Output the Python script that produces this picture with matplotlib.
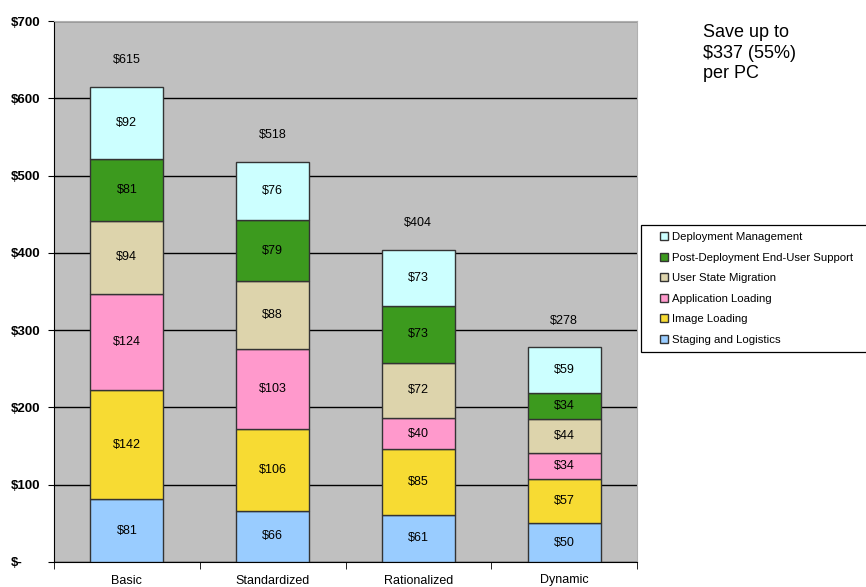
import matplotlib.pyplot as plt
from matplotlib.patches import Rectangle
import numpy as np

plt.rcParams['font.family'] = ['Liberation Sans', 'DejaVu Sans']

# data (bottom to top)
categories = ["Basic", "Standardized", "Rationalized", "Dynamic"]
series_names = ["Staging and Logistics", "Image Loading", "Application Loading",
                "User State Migration", "Post-Deployment End-User Support",
                "Deployment Management"]
staging = [81, 66, 61, 50]
image = [142, 106, 85, 57]
app = [124, 103, 40, 34]
user_state = [94, 88, 72, 44]
post_deploy = [81, 79, 73, 34]
deploy_mgmt = [92, 76, 73, 59]
totals = [615, 518, 404, 278]
y_ticks = [0, 100, 200, 300, 400, 500, 600, 700]
y_tick_labels = ["$-", "$100", "$200", "$300", "$400", "$500", "$600", "$700"]

colors = ["#99CCFF", "#F7DB33", "#FF99CC", "#DDD4AC", "#3C9A1E", "#CCFFFF"]

fig = plt.figure(figsize=(8.66, 5.87), dpi=100)
ax = fig.add_axes([54 / 866, 25 / 587, (637 - 54) / 866, (562 - 21) / 587])
ax.set_facecolor("#C0C0C0")

x = np.arange(len(categories))
series = [staging, image, app, user_state, post_deploy, deploy_mgmt]
bottom = np.zeros(len(categories))
handles = []
for vals, name, col in zip(series, series_names, colors):
    bars = ax.bar(x, vals, width=0.5, bottom=bottom, color=col,
                  edgecolor="#333333", linewidth=1.0, label=name, zorder=3)
    handles.append(bars)
    for xi, b, v in zip(x, bottom, vals):
        ax.text(xi, b + v / 2, f"${v}", ha="center", va="center",
                fontsize=9, zorder=4)
    bottom += np.array(vals)

# totals above the stacks
for xi, t in zip(x, totals):
    ax.text(xi, t + 34, f"${t}", ha="center", va="center", fontsize=9)

ax.set_xlim(-0.5, 3.5)
ax.set_ylim(0, 700)
ax.set_yticks(y_ticks)
ax.set_yticklabels(y_tick_labels, fontsize=9.5, fontweight="bold")
ax.yaxis.grid(True, color="black", linewidth=1.0, zorder=1)
ax.set_axisbelow(True)

ax.set_xticks(x)
ax.set_xticklabels(categories, fontsize=9)
ax.set_xticks(np.arange(-0.5, 4.0, 1.0), minor=True)
ax.tick_params(axis="x", which="major", length=0, pad=9)
ax.tick_params(axis="x", which="minor", length=5, direction="out")
ax.tick_params(axis="y", length=4, direction="out", pad=27)
for lbl in ax.get_yticklabels():
    lbl.set_horizontalalignment("left")

ax.spines["top"].set_color("#B0B0B0")
ax.spines["right"].set_color("#B0B0B0")
ax.spines["left"].set_color("black")
ax.spines["bottom"].set_color("black")

# legend box (runs off the right edge like the original)
fig.patches.append(Rectangle((641 / 866, 1 - 352 / 587), 240 / 866, 127 / 587,
                             transform=fig.transFigure, facecolor="white",
                             edgecolor="black", linewidth=0.9, zorder=1))
leg = fig.legend(handles[::-1], series_names[::-1], loc="upper left",
                 bbox_to_anchor=(660 / 866, 1 - 232 / 587), fontsize=8.2,
                 frameon=False, handlelength=0.7, handleheight=0.7,
                 handletextpad=0.35, labelspacing=0.93, borderpad=0,
                 borderaxespad=0)
leg.set_zorder(2)

fig.text(703 / 866, 1 - 53 / 587, "Save up to\n$337 (55%)\nper PC",
         fontsize=13, ha="left", va="center", linespacing=1.25)

fig.savefig("out.png", dpi=100)
